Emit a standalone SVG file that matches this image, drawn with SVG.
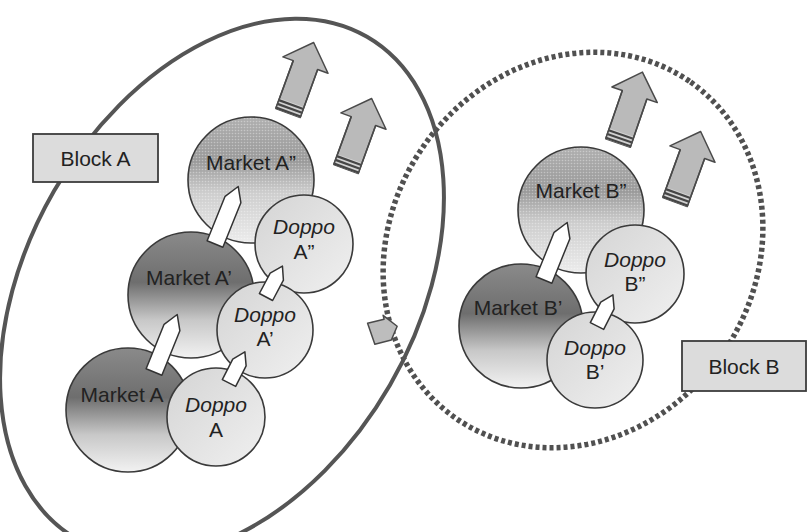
<svg xmlns="http://www.w3.org/2000/svg" xmlns:xlink="http://www.w3.org/1999/xlink" width="808" height="532" viewBox="0 0 808 532">
  <style>
    .lbl { font-family: "Liberation Sans", Arial, sans-serif; font-size: 21px; fill: #222; text-anchor: middle; }
    .it { font-style: italic; }
    .circ { stroke: #3a3a3a; stroke-width: 1.6; }
    .box { fill: #dcdcdc; stroke: #3c3c3c; stroke-width: 1.8; }
    .wa { fill: #ffffff; stroke: #333; stroke-width: 1.5; stroke-linejoin: round; }
  </style>
  <defs>
    <linearGradient id="gTop" x1="0" y1="0" x2="0" y2="1">
      <stop offset="0" stop-color="#b0b0b0"/>
      <stop offset="0.35" stop-color="#999"/>
      <stop offset="0.6" stop-color="#cdcdcd"/>
      <stop offset="1" stop-color="#ececec"/>
    </linearGradient>
    <linearGradient id="gMid" x1="0" y1="0" x2="0" y2="1">
      <stop offset="0" stop-color="#8a8a8a"/>
      <stop offset="0.4" stop-color="#6e6e6e"/>
      <stop offset="0.7" stop-color="#c8c8c8"/>
      <stop offset="1" stop-color="#f2f2f2"/>
    </linearGradient>
    <linearGradient id="gDoppo" x1="0" y1="0" x2="1" y2="1">
      <stop offset="0" stop-color="#d4d4d4"/>
      <stop offset="1" stop-color="#f0f0f0"/>
    </linearGradient>
    <pattern id="dots" width="3" height="3" patternUnits="userSpaceOnUse">
      <circle cx="1.5" cy="1.5" r="0.8" fill="#ffffff" fill-opacity="0.35"/>
    </pattern>
    <!-- wide grey growth arrow, tail centre at origin, pointing up -->
    <g id="garrow">
      <polygon points="-13,0 13,0 13,-51 24,-51 0,-75 -24,-51 -13,-51" fill="#bababa" stroke="#4a4a4a" stroke-width="1.5" stroke-linejoin="round"/>
      <rect x="-13" y="-11" width="26" height="11" fill="#d2d2d2"/>
      <g stroke="#454545" stroke-width="2.2">
        <line x1="-13" y1="-1" x2="13" y2="-1"/>
        <line x1="-13" y1="-5" x2="13" y2="-5"/>
        <line x1="-13" y1="-9" x2="13" y2="-9"/>
      </g>
      <polyline points="-13,0 -13,-51" fill="none" stroke="#4a4a4a" stroke-width="1.5"/>
      <polyline points="13,0 13,-51" fill="none" stroke="#4a4a4a" stroke-width="1.5"/>
    </g>
    <!-- white pointed step arrows -->
    <polygon id="wlong" class="wa" points="-8.5,0 8.5,0 8.5,-48 0,-62 -8.5,-48"/>
    <polygon id="wshort" class="wa" points="-7.5,0 7.5,0 7.5,-23 0,-35 -7.5,-23"/>
  </defs>

  <rect width="808" height="532" fill="#ffffff"/>

  <!-- region outlines -->
  <g id="regionB">
    <ellipse cx="0" cy="0" rx="205" ry="182" transform="translate(573,250) rotate(-55)" fill="none" stroke="#505050" stroke-width="5.5" stroke-dasharray="4 3"/>
  </g>
  <g id="regionA">
    <ellipse cx="0" cy="0" rx="290" ry="194" transform="translate(222,288) rotate(-60)" fill="none" stroke="#555" stroke-width="4"/>
  </g>

  <!-- grey growth arrows -->
  <g id="growth">
    <use xlink:href="#garrow" transform="translate(288,113) rotate(20)"/>
    <use xlink:href="#garrow" transform="translate(346,169) rotate(20)"/>
    <use xlink:href="#garrow" transform="translate(618,143) rotate(19)"/>
    <use xlink:href="#garrow" transform="translate(675,202) rotate(20)"/>
  </g>

  <!-- small transfer arrow between blocks -->
  <g id="transfer">
    <polygon points="0,-10 17,-10 17,-14 28,0 19,12 2,12" transform="translate(370,333) rotate(-14)" fill="#bdbdbd" stroke="#4a4a4a" stroke-width="1.5" stroke-linejoin="round"/>
  </g>

  <!-- Block A markets -->
  <g id="marketA2">
    <circle class="circ" cx="251" cy="180" r="63" fill="url(#gTop)"/>
    <circle cx="251" cy="180" r="62" fill="url(#dots)"/>
    <text class="lbl" x="251" y="170">Market A”</text>
  </g>
  <g id="doppoA2">
    <circle class="circ" cx="304" cy="244" r="49" fill="url(#gDoppo)"/>
    <text class="lbl it" x="304" y="234">Doppo</text>
    <text class="lbl" x="304" y="259">A”</text>
  </g>
  <g id="marketA1">
    <circle class="circ" cx="191" cy="295" r="63" fill="url(#gMid)"/>
    <text class="lbl" x="189" y="285">Market A’</text>
  </g>
  <g id="doppoA1">
    <circle class="circ" cx="265" cy="330" r="48" fill="url(#gDoppo)"/>
    <text class="lbl it" x="265" y="322">Doppo</text>
    <text class="lbl" x="265" y="346">A’</text>
  </g>
  <g id="marketA">
    <circle class="circ" cx="128" cy="410" r="62" fill="url(#gMid)"/>
    <text class="lbl" x="122" y="402">Market A</text>
  </g>
  <g id="doppoA">
    <circle class="circ" cx="216" cy="417" r="49" fill="url(#gDoppo)"/>
    <text class="lbl it" x="216" y="412">Doppo</text>
    <text class="lbl" x="216" y="437">A</text>
  </g>

  <!-- Block B markets -->
  <g id="marketB2">
    <circle class="circ" cx="581" cy="210" r="63" fill="url(#gTop)"/>
    <circle cx="581" cy="210" r="62" fill="url(#dots)"/>
    <text class="lbl" x="581" y="198">Market B”</text>
  </g>
  <g id="doppoB2">
    <circle class="circ" cx="635" cy="274" r="49" fill="url(#gDoppo)"/>
    <text class="lbl it" x="635" y="267">Doppo</text>
    <text class="lbl" x="635" y="291">B”</text>
  </g>
  <g id="marketB1">
    <circle class="circ" cx="521" cy="326" r="62" fill="url(#gMid)"/>
    <text class="lbl" x="518" y="315">Market B’</text>
  </g>
  <g id="doppoB1">
    <circle class="circ" cx="595" cy="360" r="48" fill="url(#gDoppo)"/>
    <text class="lbl it" x="595" y="355">Doppo</text>
    <text class="lbl" x="595" y="379">B’</text>
  </g>

  <!-- step arrows between markets -->
  <g id="connectors">
    <use xlink:href="#wlong" transform="translate(215,244) rotate(22)"/>
    <use xlink:href="#wlong" transform="translate(154,372) rotate(22)"/>
    <use xlink:href="#wshort" transform="translate(266,297) rotate(28)"/>
    <use xlink:href="#wshort" transform="translate(229,383) rotate(27)"/>
    <use xlink:href="#wlong" transform="translate(544,280) rotate(22)"/>
    <use xlink:href="#wshort" transform="translate(597,326) rotate(27)"/>
  </g>

  <!-- block labels -->
  <g id="blockA">
    <rect class="box" x="33" y="134" width="125" height="48"/>
    <text class="lbl" x="95.5" y="166">Block A</text>
  </g>
  <g id="blockB">
    <rect class="box" x="682" y="341" width="124" height="50"/>
    <text class="lbl" x="744" y="374">Block B</text>
  </g>
</svg>
